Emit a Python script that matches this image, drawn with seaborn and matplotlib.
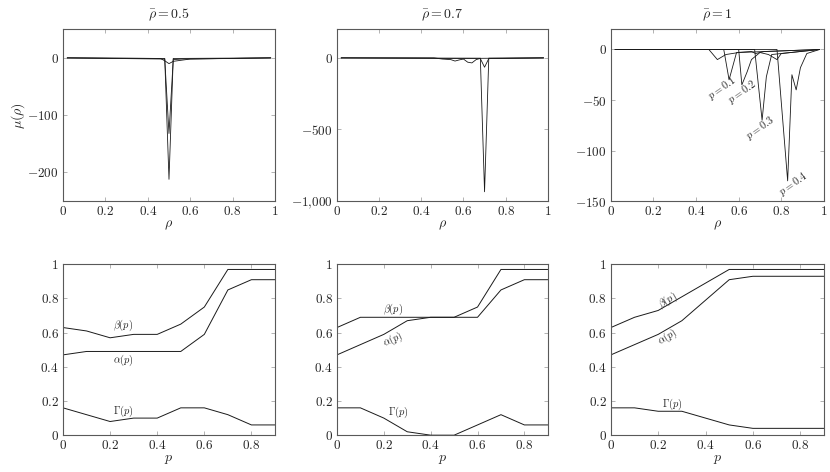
import numpy as np
import pandas as pd
import matplotlib
matplotlib.use("Agg")
import matplotlib.pyplot as plt
import matplotlib.ticker as mticker
import seaborn as sns

# ---- top row: mu(rho) curves, one list of knots per curve ----
rho_bars = ["0.5", "0.7", "1"]

top_curves = {
    "0.5": [
        ([0.02, 0.48, 0.50, 0.52, 0.98], [0, -1, -212, -1, 0]),
        ([0.02, 0.48, 0.50, 0.52, 0.56, 0.98], [0, -2, -132, -3, -2, 0]),
        ([0.02, 0.46, 0.48, 0.50, 0.52, 0.60, 0.98], [0, -1, -5, -10, -6, -2, 0]),
    ],
    "0.7": [
        ([0.02, 0.68, 0.70, 0.72, 0.98], [0, -2, -935, -2, 0]),
        ([0.02, 0.68, 0.70, 0.72, 0.98], [0, -5, -65, -5, 0]),
        ([0.02, 0.46, 0.50, 0.54, 0.56, 0.58, 0.60, 0.62, 0.64, 0.66, 0.68, 0.98],
         [0, 0, -8, -12, -22, -14, -8, -30, -35, -12, -3, 0]),
    ],
    "1": [
        ([0.02, 0.46, 0.50, 0.54, 0.60, 0.98], [0, 0, -10, -5, -3, 0]),
        ([0.02, 0.53, 0.555, 0.59, 0.66, 0.68, 0.72, 0.98], [0, 0, -30, -3, -2, -4, -2, 0]),
        ([0.02, 0.60, 0.615, 0.64, 0.66, 0.70, 0.74, 0.78, 0.80, 0.98],
         [0, 0, -35, -22, -10, -3, -5, -10, -4, 0]),
        ([0.02, 0.675, 0.71, 0.73, 0.755, 0.98], [0, 0, -70, -27, -5, 0]),
        ([0.02, 0.78, 0.83, 0.85, 0.87, 0.89, 0.92, 0.98], [0, 0, -130, -25, -40, -18, -4, 0]),
    ],
}
top_ylims = {"0.5": (-250, 50), "0.7": (-1000, 200), "1": (-150, 20)}
top_yticks = {"0.5": [-200, -100, 0], "0.7": [-1000, -500, 0], "1": [-150, -100, -50, 0]}

p_labels = ["p = 0.1", "p = 0.2", "p = 0.3", "p = 0.4"]
p_label_pos = [(0.52, -38), (0.615, -42), (0.70, -78), (0.855, -133)]

# ---- bottom row: alpha, beta, Gamma vs p ----
p_vals = [0, 0.1, 0.2, 0.3, 0.4, 0.5, 0.6, 0.7, 0.8, 0.9]
beta = {
    "0.5": [0.63, 0.61, 0.57, 0.59, 0.59, 0.65, 0.75, 0.97, 0.97, 0.97],
    "0.7": [0.63, 0.69, 0.69, 0.69, 0.69, 0.69, 0.75, 0.97, 0.97, 0.97],
    "1": [0.63, 0.69, 0.73, 0.81, 0.89, 0.97, 0.97, 0.97, 0.97, 0.97],
}
alpha = {
    "0.5": [0.47, 0.49, 0.49, 0.49, 0.49, 0.49, 0.59, 0.85, 0.91, 0.91],
    "0.7": [0.47, 0.53, 0.59, 0.67, 0.69, 0.69, 0.69, 0.85, 0.91, 0.91],
    "1": [0.47, 0.53, 0.59, 0.67, 0.79, 0.91, 0.93, 0.93, 0.93, 0.93],
}
gamma = {
    "0.5": [0.16, 0.12, 0.08, 0.10, 0.10, 0.16, 0.16, 0.12, 0.06, 0.06],
    "0.7": [0.16, 0.16, 0.10, 0.02, 0.00, 0.00, 0.06, 0.12, 0.06, 0.06],
    "1": [0.16, 0.16, 0.14, 0.14, 0.10, 0.06, 0.04, 0.04, 0.04, 0.04],
}
# label text, x, y, rotation
bottom_labels = {
    "0.5": [(r"$\beta(p)$", 0.255, 0.64, 0), (r"$\alpha(p)$", 0.255, 0.435, 0),
            (r"$\Gamma(p)$", 0.255, 0.14, 0)],
    "0.7": [(r"$\beta(p)$", 0.24, 0.735, 0), (r"$\alpha(p)$", 0.24, 0.56, 25),
            (r"$\Gamma(p)$", 0.262, 0.135, 0)],
    "1": [(r"$\beta(p)$", 0.239, 0.79, 30), (r"$\alpha(p)$", 0.239, 0.572, 32),
          (r"$\Gamma(p)$", 0.26, 0.183, 0)],
}

sns.set_style("ticks")
plt.rcParams["mathtext.fontset"] = "cm"
plt.rcParams["font.family"] = ["DejaVu Serif"]


def tick_fmt(v, pos):
    if abs(v + 1000) < 1e-9:
        return r"$-1{,}000$"
    return "$%g$" % (0 if abs(v) < 1e-12 else v)


def style_axes(ax):
    for s in ax.spines.values():
        s.set_color("0.35")
        s.set_linewidth(0.8)
    ax.tick_params(direction="in", length=3, width=0.6, color="0.65",
                   top=True, right=True, labelsize=9.5, pad=3)
    ax.xaxis.set_major_formatter(mticker.FuncFormatter(tick_fmt))
    ax.yaxis.set_major_formatter(mticker.FuncFormatter(tick_fmt))


fig = plt.figure(figsize=(8.3, 4.72), dpi=100)
lefts = [0.0759, 0.406, 0.736]
widths = [0.2554, 0.254, 0.2566]

for i, rb in enumerate(rho_bars):
    ax = fig.add_axes([lefts[i], 0.574, widths[i], 0.364])
    for k, (xs, ys) in enumerate(top_curves[rb]):
        df = pd.DataFrame({"rho": xs, "mu": ys})
        sns.lineplot(data=df, x="rho", y="mu", ax=ax, color="0.1", lw=0.6,
                     sort=False, estimator=None)
    ax.set_xlim(0, 1)
    ax.set_ylim(*top_ylims[rb])
    ax.set_xticks([0, 0.2, 0.4, 0.6, 0.8, 1])
    ax.set_yticks(top_yticks[rb])
    style_axes(ax)
    ax.set_xlabel(r"$\rho$", fontsize=10, labelpad=0)
    ax.set_ylabel(r"$\mu(\rho)$" if i == 0 else "", fontsize=10, labelpad=0)
    ax.set_title(r"$\bar{\rho} = %s$" % rb, fontsize=10, pad=8)
    if rb == "1":
        for lab, (lx, ly) in zip(p_labels, p_label_pos):
            ax.text(lx, ly, "$" + lab + "$", fontsize=7.5, rotation=35,
                    ha="center", va="center")

    axb = fig.add_axes([lefts[i], 0.078, widths[i], 0.362])
    df = pd.DataFrame({"p": p_vals * 3,
                       "val": beta[rb] + alpha[rb] + gamma[rb],
                       "fn": ["beta"] * 10 + ["alpha"] * 10 + ["Gamma"] * 10})
    sns.lineplot(data=df, x="p", y="val", units="fn", estimator=None, ax=axb,
                 color="0.1", lw=0.7)
    axb.set_xlim(0, 0.9)
    axb.set_ylim(0, 1)
    axb.set_xticks([0, 0.2, 0.4, 0.6, 0.8])
    axb.set_yticks([0, 0.2, 0.4, 0.6, 0.8, 1])
    style_axes(axb)
    axb.set_xlabel(r"$p$", fontsize=10, labelpad=0)
    axb.set_ylabel("")
    for txt, tx, ty, rot in bottom_labels[rb]:
        axb.text(tx, ty, txt, fontsize=7.5, rotation=rot, ha="center", va="center")

fig.savefig("out.png", dpi=100)
